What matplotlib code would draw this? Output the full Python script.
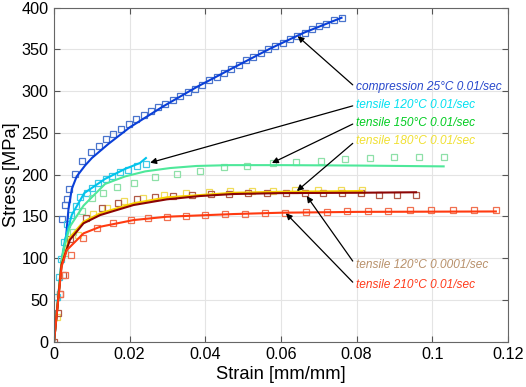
import matplotlib
matplotlib.use('Agg')
import matplotlib.pyplot as plt

# ---------------- data ----------------
# compression 25C 0.01/sec
comp_mx = [0.0020, 0.0030, 0.0033, 0.0040, 0.0056, 0.0075, 0.0098, 0.0118, 0.0138, 0.0157,
           0.0177, 0.0197, 0.0217, 0.0237, 0.0256, 0.0275, 0.0294, 0.0314, 0.0333, 0.0353,
           0.0372, 0.0391, 0.0411, 0.0430, 0.0450, 0.0469, 0.0488, 0.0508, 0.0527, 0.0547,
           0.0566, 0.0585, 0.0605, 0.0624, 0.0643, 0.0663, 0.0682, 0.0701, 0.0720, 0.0739, 0.0760]
comp_my = [147, 164, 171, 183, 201, 216, 227, 235, 243, 249,
           255, 261, 267, 272, 276, 281, 285, 290, 294, 299,
           303, 308, 313, 317, 322, 327, 332, 337, 341, 346,
           350, 354, 358, 362, 366, 370, 374, 378, 381, 385, 388]
comp_lx = [0, 0.0020, 0.0032, 0.0038, 0.0047, 0.0060, 0.0082, 0.0100, 0.0144, 0.0201,
           0.0289, 0.0377, 0.0465, 0.0571, 0.0660, 0.0760]
comp_ly = [0, 96, 126, 158, 183, 198, 211, 220, 237, 257, 282, 305, 326, 351, 370, 388]

# tensile 120C 0.01/sec
t120_mx = [0.0009, 0.0014, 0.0019, 0.0026, 0.0035, 0.0044, 0.0058, 0.0069, 0.0086, 0.0101,
           0.0117, 0.0137, 0.0154, 0.0174, 0.0196, 0.0219, 0.0242]
t120_my = [54, 77, 99, 120, 141, 152, 163, 173, 178, 184, 190, 195, 199, 203, 206, 210, 213]
t120_lx = [0, 0.0020, 0.0029, 0.0047, 0.0080, 0.0135, 0.0188, 0.0227, 0.0243]
t120_ly = [0, 97, 122, 152, 178, 195, 207, 214, 220]

# tensile 150C 0.01/sec
t150_mx = [0.0029, 0.0051, 0.0073, 0.0100, 0.0130, 0.0166, 0.0212, 0.0267, 0.0324, 0.0386,
           0.0449, 0.0511, 0.0578, 0.0641, 0.0705, 0.0770, 0.0835, 0.0900, 0.0965, 0.1031]
t150_my = [106, 132, 156, 172, 178, 185, 190.5, 197, 201, 205,
           209, 211, 214.4, 215.6, 216.8, 218.4, 219.6, 220.8, 220.8, 220.8]
t150_lx = [0, 0.0020, 0.0025, 0.0042, 0.0078, 0.0135, 0.0188, 0.0241, 0.0307, 0.0377,
           0.0465, 0.0600, 0.0800, 0.1030]
t150_ly = [0, 96, 110, 138, 163, 189, 198, 204, 208, 210.5, 211.5, 211.5, 211, 210]

# tensile 180C 0.01/sec
t180_mx = [0.0007, 0.0064, 0.0104, 0.0140, 0.0185, 0.0235, 0.0290, 0.0350, 0.0410, 0.0465,
           0.0523, 0.0578, 0.0637, 0.0699, 0.0758, 0.0815]
t180_my = [30, 128, 153, 160, 168, 172, 176, 178, 179.5, 180.5,
           180.5, 181, 181.7, 181.7, 181.7, 181.7]
t180_lx = [0, 0.0020, 0.0042, 0.0078, 0.0122, 0.0210, 0.0298, 0.0474, 0.0600, 0.0815]
t180_ly = [0, 93, 125, 143.7, 153.8, 165.7, 172.9, 178.4, 179.6, 180.5]

# tensile 120C 0.0001/sec
t120s_mx = [0, 0.0011, 0.0016, 0.0025, 0.0042, 0.0085, 0.0126, 0.0170, 0.0219, 0.0267,
            0.0315, 0.0364, 0.0414, 0.0463, 0.0514, 0.0564, 0.0613, 0.0663, 0.0712, 0.0762,
            0.0811, 0.0860, 0.0908, 0.0957]
t120s_my = [0, 34, 57, 80, 122.6, 147.8, 159.7, 165.7, 170.5, 173,
            175, 175.7, 177, 177.5, 177.7, 177.7, 177.7, 177.7, 177.7, 177.7,
            177.7, 176, 176, 175.3]
t120s_lx = [0, 0.0020, 0.0042, 0.0078, 0.0122, 0.0210, 0.0298, 0.0386, 0.0474, 0.0600,
            0.0800, 0.0957]
t120s_ly = [0, 92, 122, 141.8, 151.7, 163.7, 170.5, 174.5, 176.9, 178, 178.4, 179]

# tensile 210C 0.01/sec
t210_mx = [0.0016, 0.0029, 0.0044, 0.0076, 0.0114, 0.0157, 0.0203, 0.0249, 0.0298, 0.0348,
           0.0399, 0.0452, 0.0505, 0.0558, 0.0611, 0.0666, 0.0721, 0.0775, 0.0830, 0.0884,
           0.0941, 0.0997, 0.1054, 0.1111, 0.1168]
t210_my = [57, 80, 103.8, 123.8, 135.8, 141.8, 145.7, 147.8, 149.7, 150.9,
           151.7, 152.6, 152.9, 153.8, 154.5, 155.3, 155.7, 156, 156.5, 156.9,
           157.2, 157.4, 157.7, 157.7, 157.7]
t210_lx = [0, 0.0020, 0.0034, 0.0078, 0.0122, 0.0210, 0.0298, 0.0474, 0.0600, 0.0800, 0.1168]
t210_ly = [0, 90, 109.8, 129.8, 137.7, 145.7, 149.7, 152.9, 154.5, 155.5, 156]

labels = ['compression 25°C 0.01/sec', 'tensile 120°C 0.01/sec', 'tensile 150°C 0.01/sec',
          'tensile 180°C 0.01/sec', 'tensile 120°C 0.0001/sec', 'tensile 210°C 0.01/sec']
# arrow tip (data) and label anchor (data)
arrow_tips = [(0.0644, 366), (0.0254, 214.4), (0.0576, 214), (0.0642, 180.5),
              (0.0668, 174.5), (0.0613, 153.8)]
label_pos = [(0.0797, 304.7), (0.0797, 283.4), (0.0797, 262.3), (0.0797, 240.4),
             (0.0797, 91.9), (0.0797, 67.9)]

# ---------------- styles ----------------
series = [
    (comp_mx, comp_my, comp_lx, comp_ly, '#4a74cc', '#0a3fd8'),
    (t120_mx, t120_my, t120_lx, t120_ly, '#3cc8e4', '#00c4ec'),
    (t150_mx, t150_my, t150_lx, t150_ly, '#8ee0a8', '#4ee89a'),
    (t180_mx, t180_my, t180_lx, t180_ly, '#f0dc5a', '#f8d000'),
    (t120s_mx, t120s_my, t120s_lx, t120s_ly, '#b05a48', '#8c0404'),
    (t210_mx, t210_my, t210_lx, t210_ly, '#f07050', '#ff3a10'),
]
text_colors = ['#2848cc', '#00e0f0', '#00cc20', '#f0e030', '#b8906a', '#ff3a1a']

plt.rcParams['font.family'] = ['Liberation Sans', 'DejaVu Sans']

fig = plt.figure(figsize=(5.26, 3.87), dpi=100)
ax = fig.add_axes([0.1027, 0.117, 0.863, 0.863])

for mx, my, lx, ly, mc, lc in series:
    ax.plot(mx, my, ls='none', marker='s', ms=5, mfc='none', mec=mc, mew=0.9)
for mx, my, lx, ly, mc, lc in series:
    ax.plot(lx, ly, color=lc, lw=1.5)

for lab, tip, pos, tc in zip(labels, arrow_tips, label_pos, text_colors):
    ax.annotate(lab, xy=tip, xytext=pos, textcoords='data', ha='left', va='center',
                fontsize=8.6, style='italic', color=tc,
                arrowprops=dict(arrowstyle='-|>', color='black', lw=0.9,
                                shrinkA=0, shrinkB=0, mutation_scale=9,
                                relpos=(0, 0.5)))

ax.set_xlim(0, 0.12)
ax.set_ylim(0, 400)
ax.set_xticks([0, 0.02, 0.04, 0.06, 0.08, 0.1, 0.12])
ax.set_xticklabels(['0', '0.02', '0.04', '0.06', '0.08', '0.1', '0.12'])
ax.set_yticks(range(0, 401, 50))
ax.grid(True, color='#e4e4e4', lw=0.8)
ax.set_axisbelow(True)
ax.tick_params(direction='in', top=True, right=True, labelsize=11.7, length=4,
               color='#555555', pad=4)
for s in ax.spines.values():
    s.set_color('#666666')
    s.set_linewidth(0.8)
ax.set_xlabel('Strain [mm/mm]', fontsize=13.2, labelpad=3)
ax.set_ylabel('Stress [MPa]', fontsize=13.2, labelpad=1)

fig.savefig('out.png', dpi=100)
